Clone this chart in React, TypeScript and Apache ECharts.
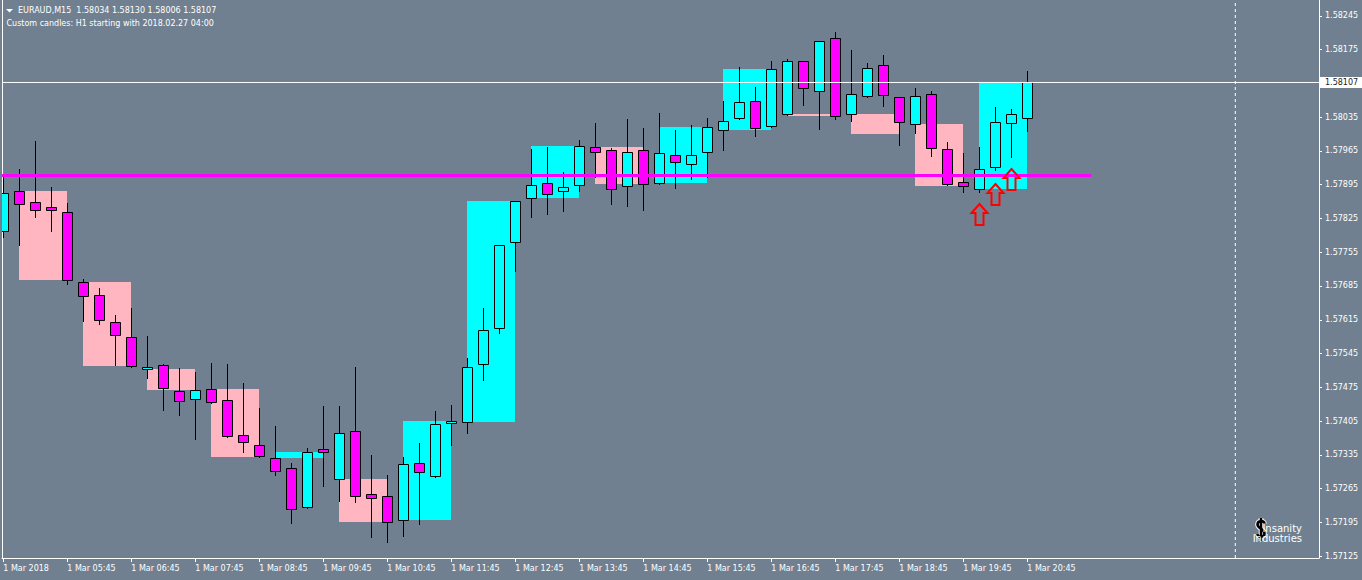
import React, { useEffect, useRef } from 'react';
import * as echarts from 'echarts';

// ---------- data ----------
const symbolName = 'EURAUD,M15';
const headerQuote = ['1.58034', '1.58130', '1.58006', '1.58107'];
const subtitle = 'Custom candles: H1 starting with 2018.02.27 04:00';
const logoText = 'Insanity\nIndustries';

// M15 candles, index 0 = 1 Mar 04:45
const candleOpen = [
  1.57798, 1.57881, 1.57859, 1.57848, 1.57838, 1.57693, 1.57666, 1.5761, 1.57579, 1.57512,
  1.57521, 1.57467, 1.5745, 1.57471, 1.57448, 1.57377, 1.57355, 1.57328, 1.57307, 1.57226,
  1.57346, 1.57284, 1.57384, 1.57253, 1.57249, 1.57199, 1.57317, 1.57292, 1.57402, 1.57402,
  1.57523, 1.57597, 1.57776, 1.57867, 1.57898, 1.57881, 1.57894, 1.57973, 1.57967, 1.57892,
  1.57967, 1.57898, 1.57956, 1.57937, 1.57962, 1.58008, 1.58033, 1.58068, 1.58016, 1.58041,
  1.58151, 1.58089, 1.58199, 1.58041, 1.58078, 1.58143, 1.58076, 1.5802, 1.58083, 1.57969,
  1.579, 1.57886, 1.57931, 1.58022, 1.58034,
];
const candleClose = [
  1.57877, 1.57854, 1.57843, 1.57842, 1.57697, 1.57664, 1.57614, 1.57583, 1.57519, 1.57516,
  1.57473, 1.57446, 1.57469, 1.57444, 1.57373, 1.57361, 1.57332, 1.57301, 1.57222, 1.5734,
  1.5734, 1.5738, 1.57249, 1.57245, 1.57195, 1.57315, 1.57299, 1.57398, 1.57406, 1.57516,
  1.57593, 1.57769, 1.57861, 1.57894, 1.57875, 1.5789, 1.57975, 1.57962, 1.57886, 1.57962,
  1.57896, 1.5796, 1.57942, 1.57956, 1.58014, 1.58027, 1.58066, 1.58012, 1.58134, 1.58151,
  1.58095, 1.58193, 1.58037, 1.58083, 1.58137, 1.58081, 1.58025, 1.58078, 1.57971, 1.57896,
  1.57892, 1.57927, 1.58025, 1.58041, 1.58107,
];
const candleLow = [
  1.57787, 1.57771, 1.57829, 1.578, 1.5769, 1.57613, 1.57607, 1.57522, 1.57517, 1.57495,
  1.57428, 1.57418, 1.57368, 1.57442, 1.57372, 1.57341, 1.57331, 1.57294, 1.57194, 1.57225,
  1.57271, 1.5724, 1.57238, 1.57165, 1.57155, 1.57167, 1.57192, 1.57289, 1.57356, 1.5738,
  1.57491, 1.57588, 1.57717, 1.57829, 1.57835, 1.57841, 1.57881, 1.57912, 1.57856, 1.5785,
  1.57843, 1.57897, 1.57889, 1.57906, 1.5791, 1.57968, 1.58032, 1.57995, 1.58015, 1.5804,
  1.58061, 1.58011, 1.58032, 1.58028, 1.58077, 1.58059, 1.57978, 1.58003, 1.57955, 1.57895,
  1.57879, 1.57879, 1.57926, 1.57953, 1.58006,
];
const candleHigh = [
  1.57915, 1.57928, 1.57986, 1.5789, 1.57857, 1.577, 1.57681, 1.57625, 1.57639, 1.57581,
  1.57523, 1.57515, 1.57507, 1.57525, 1.57523, 1.57484, 1.57432, 1.57395, 1.57318, 1.57349,
  1.57436, 1.57436, 1.57517, 1.57335, 1.57293, 1.5733, 1.57359, 1.57426, 1.57438, 1.57535,
  1.57639, 1.5777, 1.57862, 1.57969, 1.57973, 1.57921, 1.57988, 1.58023, 1.57971, 1.58031,
  1.58013, 1.58044, 1.58009, 1.58019, 1.58033, 1.58069, 1.58139, 1.58098, 1.58151, 1.58156,
  1.58152, 1.58194, 1.58212, 1.58175, 1.58148, 1.58164, 1.58077, 1.58096, 1.58089, 1.57983,
  1.5796, 1.57973, 1.58056, 1.58051, 1.5813,
];

// H1 custom candles drawn as background blocks (first / last M15 index)
const h1Start = [1, 5, 9, 13, 17, 21, 25, 29, 33, 37, 41, 45, 49, 53, 57, 61];
const h1End = [4, 8, 12, 16, 20, 24, 28, 32, 36, 40, 44, 48, 52, 56, 60, 64];
const h1Open = [
  1.57881, 1.57693, 1.57512, 1.57471, 1.57328, 1.57284, 1.57199, 1.57402,
  1.57867, 1.57973, 1.57898, 1.58008, 1.58041, 1.58042, 1.5802, 1.57886,
];
const h1Close = [
  1.57697, 1.57519, 1.57469, 1.57331, 1.5734, 1.57195, 1.57406, 1.57861,
  1.57975, 1.57896, 1.58014, 1.58134, 1.58037, 1.58001, 1.57892, 1.58107,
];

// signal arrows (tip price)
const arrowIndex = [61, 62, 63];
const arrowPrice = [1.57857, 1.57898, 1.57929];

// horizontal level line
const levelPrice = 1.57914;
const levelFrom = -0.1;
const levelTo = 68;
const bidPrice = 1.58107;
const separatorIndex = 77;

// axes
const yTickValues = [
  1.58245, 1.58175, 1.58035, 1.57965, 1.57895, 1.57825, 1.57755, 1.57685,
  1.57615, 1.57545, 1.57475, 1.57405, 1.57335, 1.57265, 1.57195, 1.57125,
];
const xTickIndex = [0, 4, 8, 12, 16, 20, 24, 28, 32, 36, 40, 44, 48, 52, 56, 60, 64];
const xTickLabels = [
  '1 Mar 2018', '1 Mar 05:45', '1 Mar 06:45', '1 Mar 07:45', '1 Mar 08:45', '1 Mar 09:45',
  '1 Mar 10:45', '1 Mar 11:45', '1 Mar 12:45', '1 Mar 13:45', '1 Mar 14:45', '1 Mar 15:45',
  '1 Mar 16:45', '1 Mar 17:45', '1 Mar 18:45', '1 Mar 19:45', '1 Mar 20:45',
];

const Y_MIN = 1.57121;
const Y_MAX = 1.58278;
const X_MIN = -0.081;
const X_MAX = 82.23;

const FONT = 'DejaVu Sans';
const BG = '#708090';

let shapeRegistered = false;
function registerLogoShape() {
  if (shapeRegistered) return;
  const d = 'M8.5 6.5 C8.5 3 1.5 3 1.5 7.5 C1.5 12 8.5 11.5 8.5 16.5 C8.5 21 1.5 21 1.5 17 M5 1 L5 24';
  echarts.graphic.registerShape('dollarLogo', (echarts.graphic as any).extendPath(d, {}));
  shapeRegistered = true;
}

export default function App() {
  const ref = useRef<HTMLDivElement>(null);
  useEffect(() => {
    if (!ref.current) return;
    registerLogoShape();
    const chart = echarts.init(ref.current, null, { renderer: 'svg' });

    const candleData = candleOpen.map((o, i) => [i, o, candleClose[i], candleLow[i], candleHigh[i]]);
    const h1Data = h1Start.map((s, i) => [s, h1End[i], h1Open[i], h1Close[i]]);
    const arrowData = arrowIndex.map((x, i) => [x, arrowPrice[i]]);

    const option: any = {
      animation: false,
      backgroundColor: BG,
      textStyle: { fontFamily: FONT },
      grid: { left: 2, right: 43, top: 0, bottom: 22, containLabel: false },
      xAxis: {
        type: 'value',
        min: X_MIN,
        max: X_MAX,
        axisLine: { show: true, onZero: false, lineStyle: { color: '#ffffff', width: 1 } },
        axisTick: { show: true, length: 4, customValues: xTickIndex, lineStyle: { color: '#ffffff' } },
        axisLabel: {
          show: true,
          customValues: xTickIndex,
          formatter: (v: number) => {
            const k = xTickIndex.indexOf(Math.round(v));
            return k >= 0 ? xTickLabels[k] : '';
          },
          color: '#ffffff',
          fontFamily: FONT,
          fontSize: 8,
          align: 'left',
          margin: 6,
        },
        splitLine: { show: false },
      },
      yAxis: [
        {
          type: 'value',
          position: 'right',
          min: Y_MIN,
          max: Y_MAX,
          axisLine: { show: true, onZero: false, lineStyle: { color: '#ffffff', width: 1 } },
          axisTick: { show: true, length: 3, customValues: yTickValues, lineStyle: { color: '#ffffff' } },
          axisLabel: {
            show: true,
            customValues: yTickValues,
            formatter: (v: number) => v.toFixed(5),
            color: '#ffffff',
            fontFamily: FONT,
            fontSize: 8,
            margin: 6,
          },
          splitLine: { show: false },
        },
        {
          type: 'value',
          position: 'left',
          min: Y_MIN,
          max: Y_MAX,
          axisLine: { show: true, onZero: false, lineStyle: { color: '#ffffff', width: 1 } },
          axisTick: { show: false },
          axisLabel: { show: false },
          splitLine: { show: false },
        },
      ],
      graphic: [
        { type: 'polygon', shape: { points: [[6, 9], [13, 9], [9.5, 12.5]] }, style: { fill: '#ffffff' } },
        {
          type: 'text', x: 18, y: 10.7,
          style: { text: symbolName + '  ' + headerQuote.join(' '), fill: '#ffffff', font: '8px "DejaVu Sans"', verticalAlign: 'middle' },
        },
        {
          type: 'text', x: 6.5, y: 23.3,
          style: { text: subtitle, fill: '#ffffff', font: '8px "DejaVu Sans"', verticalAlign: 'middle' },
        },
        {
          type: 'dollarLogo', x: 1256, y: 517,
          style: { fill: 'none', stroke: '#ffffff', lineWidth: 4.5 },
        },
        {
          type: 'dollarLogo', x: 1256, y: 517,
          style: { fill: 'none', stroke: '#000000', lineWidth: 2.6 },
        },
        {
          type: 'text', x: 1302, y: 533,
          style: {
            text: logoText, fill: '#ffffff', font: '10px "DejaVu Sans"', lineHeight: 10,
            align: 'right', verticalAlign: 'middle',
            textShadowColor: '#000', textShadowOffsetX: 1, textShadowOffsetY: 1, textShadowBlur: 0,
          },
        },
      ],
      series: [
        {
          type: 'custom',
          name: 'H1',
          z: 1,
          silent: true,
          clip: true,
          data: h1Data,
          encode: { x: [0, 1], y: [2, 3] },
          renderItem: (params: any, api: any) => {
            const p0 = api.coord([api.value(0), api.value(2)]);
            const p1 = api.coord([api.value(1), api.value(3)]);
            const up = api.value(3) >= api.value(2);
            const x0 = Math.floor(p0[0]);
            const x1 = Math.floor(p1[0]);
            const yA = Math.round(Math.min(p0[1], p1[1]));
            const yB = Math.round(Math.max(p0[1], p1[1]));
            return {
              type: 'rect',
              shape: { x: x0, y: yA, width: x1 - x0, height: Math.max(yB - yA, 2) },
              style: { fill: up ? '#00FFFF' : '#FFB6C1' },
            };
          },
        },
        {
          type: 'custom',
          name: 'M15',
          z: 2,
          silent: true,
          clip: true,
          data: candleData,
          encode: { x: 0, y: [1, 2, 3, 4] },
          renderItem: (params: any, api: any) => {
            const idx = api.value(0);
            const o = api.value(1);
            const c = api.value(2);
            const pO = api.coord([idx, o]);
            const pC = api.coord([idx, c]);
            const pL = api.coord([idx, api.value(3)]);
            const pH = api.coord([idx, api.value(4)]);
            const px = Math.floor(pO[0]);
            const top = Math.round(Math.min(pO[1], pC[1]));
            const bot = Math.round(Math.max(pO[1], pC[1]));
            const h = Math.max(bot - top, 2);
            return {
              type: 'group',
              children: [
                {
                  type: 'line',
                  shape: { x1: px + 0.5, y1: Math.round(pH[1]), x2: px + 0.5, y2: Math.round(pL[1]) + 1 },
                  style: { stroke: '#000000', lineWidth: 1 },
                },
                {
                  type: 'rect',
                  shape: { x: px - 4.5, y: top + 0.5, width: 10, height: h },
                  style: { fill: c >= o ? '#00FFFF' : '#FF00FF', stroke: '#000000', lineWidth: 1 },
                },
              ],
            };
          },
        },
        {
          type: 'line',
          name: 'level',
          z: 3,
          silent: true,
          symbol: 'none',
          data: [[levelFrom, levelPrice], [levelTo, levelPrice]],
          lineStyle: { color: '#FF00FF', width: 3 },
        },
        {
          type: 'line',
          name: 'bid',
          z: 3,
          silent: true,
          symbol: 'none',
          clip: false,
          data: [[X_MIN, bidPrice], [X_MAX, bidPrice]],
          lineStyle: { color: '#ffffff', width: 1 },
          endLabel: {
            show: true,
            formatter: () => bidPrice.toFixed(5),
            backgroundColor: '#ffffff',
            color: '#222222',
            fontFamily: FONT,
            fontSize: 8,
            padding: [2, 6, 1, 5],
            distance: 1,
          },
        },
        {
          type: 'line',
          name: 'separator',
          z: 3,
          silent: true,
          symbol: 'none',
          data: [[separatorIndex, Y_MIN], [separatorIndex, Y_MAX]],
          lineStyle: { color: '#ffffff', width: 1, type: [3, 3] },
        },
        {
          type: 'custom',
          name: 'signals',
          z: 4,
          silent: true,
          data: arrowData,
          encode: { x: 0, y: 1 },
          renderItem: (params: any, api: any) => {
            const p = api.coord([api.value(0), api.value(1)]);
            const x = Math.floor(p[0]) + 0.5;
            const y = Math.round(p[1]) + 1;
            return {
              type: 'polygon',
              shape: {
                points: [[x, y], [x + 8, y + 9], [x + 4, y + 9], [x + 4, y + 21], [x - 4, y + 21], [x - 4, y + 9], [x - 8, y + 9]],
              },
              style: { fill: 'none', stroke: '#FF0000', lineWidth: 2 },
            };
          },
        },
      ],
    };

    chart.setOption(option);
    return () => chart.dispose();
  }, []);

  return (
    <div
      ref={ref}
      style={{ position: 'fixed', left: 0, top: 0, width: 1362, height: 580, background: BG }}
    />
  );
}
